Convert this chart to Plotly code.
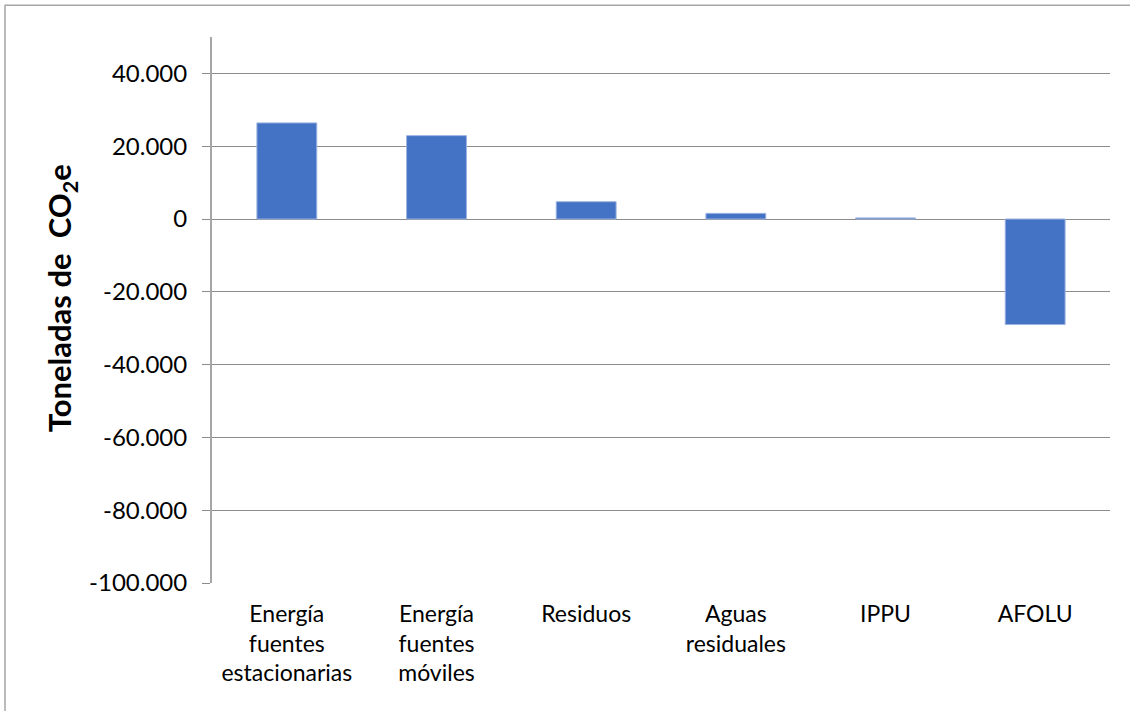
import plotly.graph_objects as go

categories = ["Energía<br>fuentes<br>estacionarias", "Energía<br>fuentes<br>móviles",
              "Residuos", "Aguas<br>residuales", "IPPU", "AFOLU"]
values = [26400, 22900, 4750, 1550, 300, -29000]
y_tickvals = [40000, 20000, 0, -20000, -40000, -60000, -80000, -100000]
y_ticktext = ["40.000", "20.000", "0", "-20.000", "-40.000", "-60.000", "-80.000", "-100.000"]
y_title = "<b>Toneladas de\u00a0\u00a0CO<sub>2</sub>e</b>"

FONT = "Lato"

fig = go.Figure(go.Bar(
    x=categories, y=values,
    marker=dict(color="#4472C4", line=dict(color="#9db3e0", width=1)),
))

fig.update_layout(
    width=1130, height=711,
    margin=dict(l=212, r=20, t=37, b=128),
    paper_bgcolor="white", plot_bgcolor="white",
    bargap=0.6,
    showlegend=False,
    font=dict(family=FONT, size=23, color="#000000"),
    xaxis=dict(
        showgrid=False, showline=False, zeroline=False,
        ticks="outside", ticklen=10, tickcolor="rgba(0,0,0,0)",
        tickfont=dict(family=FONT, size=23, color="#000000"),
    ),
    yaxis=dict(
        range=[-100000, 50000],
        tickvals=y_tickvals, ticktext=y_ticktext,
        showgrid=True, gridcolor="#8c8c8c", gridwidth=1,
        zeroline=True, zerolinecolor="#8c8c8c", zerolinewidth=1,
        showline=True, linecolor="#a6a6a6", linewidth=2,
        ticks="outside", ticklen=8, tickcolor="#8c8c8c",
        ticklabelstandoff=10,
        tickfont=dict(family=FONT, size=24, color="#000000"),
    ),
    shapes=[dict(type="rect", xref="paper", yref="paper",
                 x0=-0.2305, y0=-0.4, x1=1.1, y1=1.058,
                 line=dict(color="#a6a6a6", width=1.5), layer="below")],
    annotations=[dict(text=y_title, xref="paper", yref="paper",
                      x=-0.193, y=0.522, textangle=-90, showarrow=False,
                      font=dict(family=FONT, size=31, color="#000000"))],
)

fig.write_html("out.html", config={"displayModeBar": False},
               post_script="document.body.style.margin='0';")
